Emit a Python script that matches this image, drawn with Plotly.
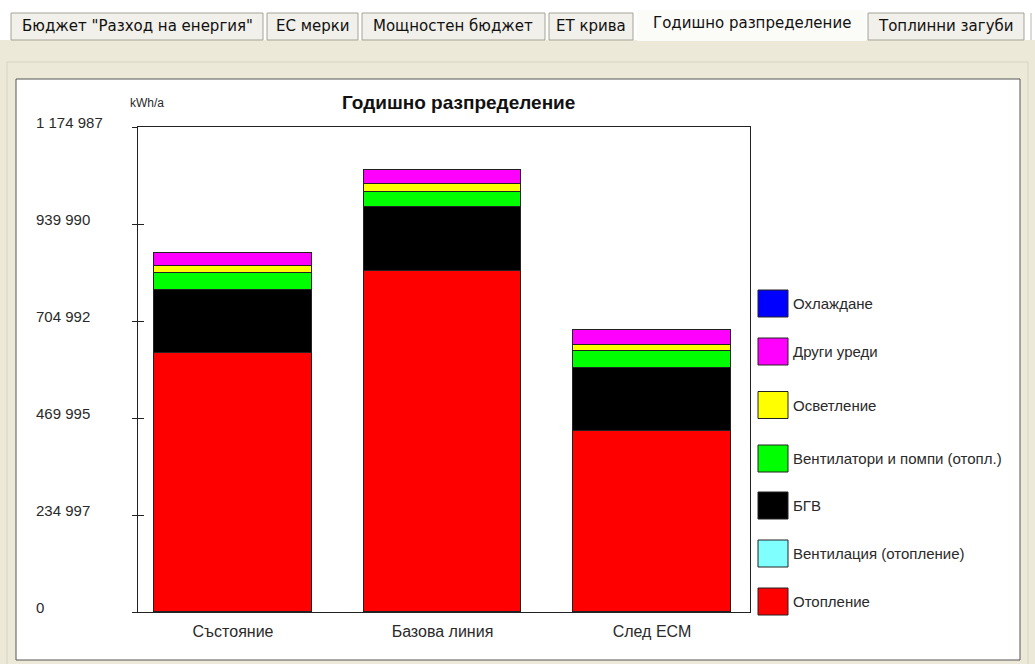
import plotly.graph_objects as go

# ---- data -------------------------------------------------------------
categories = ["Състояние", "Базова линия", "След ЕСМ"]

# stacked from the bottom up
series_names = [
    "Отопление",
    "Вентилация (отопление)",
    "БГВ",
    "Вентилатори и помпи (отопл.)",
    "Осветление",
    "Други уреди",
    "Охлаждане",
]
heating = [627000, 826900, 438500]
ventilation_heating = [0, 0, 0]
dhw = [154300, 154300, 152600]
fans_pumps = [38800, 37100, 41200]
lighting = [17700, 18700, 14500]
appliances = [32200, 33900, 36300]
cooling = [0, 0, 0]

y_ticks = [0, 234997, 469995, 704992, 939990, 1174987]
y_tick_labels = ["0", "234 997", "469 995", "704 992", "939 990", "1 174 987"]

tab_labels = ['Бюджет "Разход на енергия"', "ЕС мерки", "Мощностен бюджет",
              "ЕТ крива", "Годишно разпределение", "Топлинни загуби"]
active_tab = 4

chart_title = "Годишно разпределение"
unit_label = "kWh/a"

# ---- styling ----------------------------------------------------------
series_values = [heating, ventilation_heating, dhw, fans_pumps, lighting,
                 appliances, cooling]
series_colors = ["#FF0000", "#80FFFF", "#000000", "#00FF00", "#FFFF00",
                 "#FF00FF", "#0000FF"]

W, H = 1035, 664
PL, PR, PT, PB = 138, 750, 127, 612   # plot area in pixels
FONT = "Liberation Sans, Arial, sans-serif"
TAB_FONT = "DejaVu Sans, Tahoma, sans-serif"
TXT = "#2a2a2a"


def fx(px):
    return (px - PL) / (PR - PL)


def fy(py):
    return (PB - py) / (PB - PT)


fig = go.Figure()
for name, vals, col in zip(series_names, series_values, series_colors):
    fig.add_trace(go.Bar(
        x=categories, y=vals, name=name, width=0.75,
        marker=dict(color=col, line=dict(color="#222222", width=1)),
        showlegend=False,
    ))

shapes = []
annotations = []

# window background, tab strip and chart panel
shapes.append(dict(type="rect", xref="paper", yref="paper", layer="below",
                   x0=fx(0), x1=fx(W), y0=fy(H), y1=fy(40),
                   fillcolor="#ECE9D8", line=dict(width=0)))
shapes.append(dict(type="rect", xref="paper", yref="paper", layer="below",
                   x0=fx(7), x1=fx(1028), y0=fy(H + 2), y1=fy(62),
                   fillcolor="#ECE9D8", line=dict(color="#D6D3C4", width=1)))
shapes.append(dict(type="rect", xref="paper", yref="paper", layer="below",
                   x0=fx(16), x1=fx(1020), y0=fy(660), y1=fy(79),
                   fillcolor="#FFFFFF", line=dict(color="#555555", width=1)))

tab_spans = [(11, 263), (267, 358), (362, 545), (549, 633), (637, 866), (868, 1024)]
for i, (label, (a, b)) in enumerate(zip(tab_labels, tab_spans)):
    if i == active_tab:
        shapes.append(dict(type="rect", xref="paper", yref="paper", layer="below",
                           x0=fx(a), x1=fx(b), y0=fy(41), y1=fy(10),
                           fillcolor="#FBFBF8", line=dict(width=0)))
    else:
        shapes.append(dict(type="rect", xref="paper", yref="paper", layer="below",
                           x0=fx(a), x1=fx(b), y0=fy(40), y1=fy(13),
                           fillcolor="#F1F0EA", line=dict(color="#A5A396", width=1)))
    annotations.append(dict(xref="paper", yref="paper", x=fx((a + b) / 2),
                            y=fy(26 if i != active_tab else 23), text=label,
                            showarrow=False, xanchor="center", yanchor="middle",
                            font=dict(family=TAB_FONT, size=15, color="#111111")))
shapes.append(dict(type="line", xref="paper", yref="paper", layer="below",
                   x0=fx(1031), x1=fx(1031), y0=fy(40), y1=fy(13),
                   line=dict(color="#B8B6AA", width=1)))

# y tick labels, left aligned at the panel edge
for v, t in zip(y_ticks, y_tick_labels):
    annotations.append(dict(xref="paper", yref="y", x=fx(34), y=v, text=t,
                            showarrow=False, xanchor="left", yanchor="middle",
                            yshift=5, font=dict(family=FONT, size=15, color=TXT)))

annotations.append(dict(xref="paper", yref="paper", x=fx(128), y=fy(103),
                        text=unit_label, showarrow=False, xanchor="left",
                        yanchor="middle", font=dict(family=FONT, size=12, color=TXT)))
annotations.append(dict(xref="paper", yref="paper", x=fx(458), y=fy(103),
                        text="<b>" + chart_title + "</b>", showarrow=False,
                        xanchor="center", yanchor="middle",
                        font=dict(family=FONT, size=19, color="#111111")))

# legend: top entry is the last stacked series
legend_centers = [303.5, 351.5, 405, 458.5, 505.5, 553.5, 601.5]
for yc, name, col in zip(legend_centers, series_names[::-1], series_colors[::-1]):
    shapes.append(dict(type="rect", xref="paper", yref="paper",
                       x0=fx(758), x1=fx(788), y0=fy(yc + 13.5), y1=fy(yc - 13.5),
                       fillcolor=col, line=dict(color="#222222", width=1)))
    annotations.append(dict(xref="paper", yref="paper", x=fx(791), y=fy(yc),
                            text=name, showarrow=False, xanchor="left",
                            yanchor="middle", font=dict(family=FONT, size=15, color=TXT)))

fig.update_layout(
    width=W, height=H,
    margin=dict(l=PL, r=W - PR, t=PT, b=H - PB, pad=0),
    paper_bgcolor="#FFFFFF", plot_bgcolor="#FFFFFF",
    barmode="stack", bargap=0,
    shapes=shapes, annotations=annotations,
    font=dict(family=FONT, size=14, color=TXT),
    xaxis=dict(type="category", range=[-0.4535, 2.468], showline=True,
               mirror=True, linecolor="#222222", linewidth=1, ticks="",
               showgrid=False, zeroline=False, ticklabelstandoff=5,
               tickfont=dict(family=FONT, size=16, color=TXT)),
    yaxis=dict(range=[0, y_ticks[-1]], tickvals=y_ticks, showticklabels=False,
               ticks="outside", ticklen=5, tickcolor="#222222", showline=True,
               mirror=True, linecolor="#222222", linewidth=1, showgrid=False,
               zeroline=False),
    yaxis2=dict(range=[0, y_ticks[-1]], tickvals=y_ticks, showticklabels=False,
                overlaying="y", side="left", ticks="inside", ticklen=6,
                tickcolor="#222222", showline=False, showgrid=False,
                zeroline=False),
)
# invisible trace so the inner tick axis is drawn
fig.add_trace(go.Scatter(x=[categories[0]], y=[0], yaxis="y2", mode="markers",
                         marker=dict(opacity=0), showlegend=False, hoverinfo="skip"))

fig.write_html("out.html")
